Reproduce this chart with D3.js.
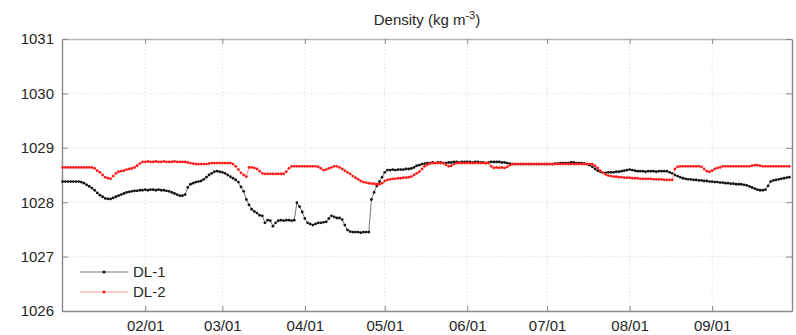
<!DOCTYPE html>
<html>
<head>
  <meta charset="utf-8">
  <style>
    body { margin: 0; background: white; font-family: "Liberation Sans", Arial, Helvetica, sans-serif; }
    svg { display: block; }
  </style>
  <script src="https://cdn.jsdelivr.net/npm/d3@7/dist/d3.min.js"></script>
</head>
<body>
  <svg id="main"></svg>
<script>
  // daily series, first value = 2012-01-01, one value per day through 09/30
  const startDate = new Date(2012, 0, 1)

  const dl1 = [
    // Jan
    1028.38,1028.38,1028.38,1028.38,1028.38,1028.38,1028.38,1028.37,1028.35,1028.32,1028.29,1028.26,1028.22,1028.17,1028.13,1028.10,
    1028.07,1028.06,1028.06,1028.08,1028.10,1028.12,1028.14,1028.16,1028.18,1028.19,1028.20,1028.21,1028.21,1028.22,1028.22,
    // Feb
    1028.23,1028.22,1028.23,1028.23,1028.22,1028.23,1028.22,1028.22,1028.21,1028.20,1028.18,1028.16,1028.14,1028.12,1028.12,
    1028.14,1028.27,1028.33,1028.35,1028.37,1028.38,1028.39,1028.42,1028.46,1028.50,1028.53,1028.56,1028.57,1028.56,
    // Mar
    1028.55,1028.53,1028.50,1028.47,1028.44,1028.41,1028.37,1028.28,1028.20,1028.05,1027.95,1027.87,1027.83,1027.80,1027.76,1027.75,
    1027.62,1027.67,1027.66,1027.56,1027.62,1027.66,1027.67,1027.66,1027.67,1027.67,1027.66,1027.67,1027.99,1027.92,1027.82,
    // Apr
    1027.70,1027.62,1027.60,1027.58,1027.60,1027.62,1027.62,1027.63,1027.64,1027.70,1027.75,1027.73,1027.71,1027.71,1027.68,
    1027.58,1027.49,1027.46,1027.45,1027.45,1027.45,1027.44,1027.45,1027.45,1027.45,1028.05,1028.18,1028.30,1028.38,1028.46,
    // May
    1028.55,1028.59,1028.59,1028.60,1028.59,1028.60,1028.60,1028.60,1028.61,1028.61,1028.62,1028.64,1028.67,1028.68,1028.70,1028.71,
    1028.72,1028.72,1028.73,1028.72,1028.73,1028.73,1028.72,1028.72,1028.73,1028.73,1028.74,1028.74,1028.73,1028.74,1028.74,
    // Jun
    1028.74,1028.74,1028.73,1028.74,1028.74,1028.73,1028.73,1028.72,1028.73,1028.74,1028.74,1028.74,1028.74,1028.73,1028.73,
    1028.72,1028.71,1028.70,1028.70,1028.70,1028.70,1028.70,1028.70,1028.70,1028.70,1028.70,1028.70,1028.70,1028.70,1028.70,
    // Jul
    1028.70,1028.70,1028.70,1028.71,1028.71,1028.72,1028.72,1028.72,1028.72,1028.73,1028.73,1028.72,1028.72,1028.72,1028.71,1028.70,
    1028.68,1028.65,1028.61,1028.58,1028.56,1028.54,1028.54,1028.55,1028.55,1028.55,1028.56,1028.56,1028.57,1028.58,1028.59,
    // Aug
    1028.60,1028.59,1028.58,1028.57,1028.57,1028.57,1028.56,1028.57,1028.57,1028.57,1028.56,1028.57,1028.57,1028.57,1028.57,1028.55,
    1028.53,1028.50,1028.48,1028.46,1028.44,1028.43,1028.42,1028.42,1028.41,1028.41,1028.40,1028.40,1028.39,1028.39,1028.38,
    // Sep
    1028.38,1028.37,1028.37,1028.36,1028.36,1028.35,1028.35,1028.34,1028.34,1028.33,1028.33,1028.33,1028.32,1028.31,1028.29,
    1028.27,1028.25,1028.23,1028.22,1028.22,1028.23,1028.30,1028.38,1028.40,1028.41,1028.42,1028.43,1028.44,1028.45,1028.46
  ]

  const dl2 = [
    // Jan
    1028.64,1028.64,1028.64,1028.64,1028.64,1028.64,1028.64,1028.64,1028.64,1028.64,1028.64,1028.64,1028.62,1028.58,1028.55,1028.50,
    1028.46,1028.44,1028.43,1028.48,1028.53,1028.56,1028.57,1028.58,1028.60,1028.61,1028.62,1028.64,1028.67,1028.71,1028.74,
    // Feb
    1028.74,1028.75,1028.74,1028.74,1028.75,1028.74,1028.74,1028.75,1028.74,1028.74,1028.74,1028.75,1028.74,1028.74,1028.74,
    1028.74,1028.73,1028.72,1028.71,1028.70,1028.70,1028.70,1028.70,1028.70,1028.71,1028.72,1028.72,1028.72,1028.72,
    // Mar
    1028.72,1028.72,1028.72,1028.72,1028.70,1028.66,1028.60,1028.54,1028.50,1028.47,1028.64,1028.64,1028.63,1028.61,1028.57,1028.53,
    1028.52,1028.52,1028.52,1028.52,1028.52,1028.52,1028.52,1028.52,1028.56,1028.62,1028.66,1028.66,1028.66,1028.66,1028.66,
    // Apr
    1028.66,1028.66,1028.66,1028.66,1028.66,1028.65,1028.62,1028.59,1028.60,1028.62,1028.64,1028.66,1028.66,1028.64,1028.61,
    1028.58,1028.55,1028.52,1028.48,1028.45,1028.42,1028.39,1028.37,1028.36,1028.35,1028.34,1028.34,1028.33,1028.33,1028.35,
    // May
    1028.39,1028.41,1028.42,1028.43,1028.43,1028.44,1028.44,1028.45,1028.45,1028.46,1028.47,1028.50,1028.53,1028.56,1028.61,1028.66,
    1028.69,1028.71,1028.72,1028.72,1028.72,1028.72,1028.72,1028.69,1028.66,1028.67,1028.70,1028.72,1028.72,1028.72,1028.72,
    // Jun
    1028.72,1028.72,1028.72,1028.72,1028.72,1028.72,1028.72,1028.72,1028.72,1028.66,1028.63,1028.64,1028.63,1028.64,1028.63,
    1028.65,1028.68,1028.70,1028.70,1028.70,1028.70,1028.70,1028.70,1028.70,1028.70,1028.70,1028.70,1028.70,1028.70,1028.70,
    // Jul
    1028.70,1028.70,1028.70,1028.70,1028.70,1028.70,1028.70,1028.70,1028.70,1028.70,1028.70,1028.70,1028.70,1028.70,1028.70,1028.70,
    1028.70,1028.70,1028.67,1028.63,1028.58,1028.54,1028.51,1028.49,1028.48,1028.47,1028.47,1028.46,1028.46,1028.45,1028.45,
    // Aug
    1028.45,1028.44,1028.44,1028.44,1028.43,1028.43,1028.43,1028.43,1028.43,1028.42,1028.42,1028.42,1028.42,1028.41,1028.41,1028.41,
    1028.41,1028.61,1028.65,1028.66,1028.66,1028.66,1028.66,1028.66,1028.66,1028.66,1028.66,1028.65,1028.61,1028.57,1028.56,
    // Sep
    1028.58,1028.61,1028.63,1028.64,1028.66,1028.66,1028.66,1028.66,1028.66,1028.66,1028.66,1028.66,1028.66,1028.66,1028.66,
    1028.67,1028.68,1028.68,1028.67,1028.66,1028.66,1028.66,1028.66,1028.66,1028.66,1028.66,1028.66,1028.66,1028.66,1028.66
  ]

  const seriesNames = ["DL-1", "DL-2"]
  const seriesColors = ["#111111", "#ff1a1a"]
  const lineColors = ["#666666", "#ff8c8c"]
  const yTicks = [1026, 1027, 1028, 1029, 1030, 1031]
  const xTickDates = [
    new Date(2012, 1, 1), new Date(2012, 2, 1), new Date(2012, 3, 1), new Date(2012, 4, 1),
    new Date(2012, 5, 1), new Date(2012, 6, 1), new Date(2012, 7, 1), new Date(2012, 8, 1)
  ]

  const width = 796
  const height = 335
  const margin = {top: 39, right: 4, bottom: 24, left: 62}

  const svg = d3.select("#main")
    .attr("width", width)
    .attr("height", height)

  const x = d3.scaleTime()
    .domain([new Date(2011, 11, 31, 18), new Date(2012, 9, 1)])
    .range([margin.left, width - margin.right])

  const y = d3.scaleLinear()
    .domain([1026, 1031])
    .range([height - margin.bottom, margin.top])

  const dayDate = i => d3.timeDay.offset(startDate, i)
  const series = [dl1, dl2].map((vals, k) => ({
    name: seriesNames[k],
    color: seriesColors[k],
    lineColor: lineColors[k],
    points: vals.map((v, i) => ({date: dayDate(i), value: v}))
  }))

  // grid
  const grid = svg.append("g")
    .attr("stroke", "#d9d9d9")
    .attr("stroke-width", 0.8)
    .attr("stroke-dasharray", "1.5,2")
  grid.selectAll("line.gx")
    .data(xTickDates)
    .join("line")
    .attr("class", "gx")
    .attr("x1", d => x(d)).attr("x2", d => x(d))
    .attr("y1", y(1031)).attr("y2", y(1026))
  grid.selectAll("line.gy")
    .data(yTicks.slice(1, -1))
    .join("line")
    .attr("class", "gy")
    .attr("x1", x.range()[0]).attr("x2", x.range()[1])
    .attr("y1", d => y(d)).attr("y2", d => y(d))

  // axes, ticks pointing inward like matlab
  const fmt = d3.timeFormat("%m/%d")
  const styleAxis = g => {
    g.select(".domain").attr("stroke", "#8a8a8a").attr("stroke-width", 1.4)
    g.selectAll(".tick line").attr("stroke", "#8a8a8a").attr("stroke-width", 1)
    g.selectAll(".tick text").attr("fill", "#262626")
      .attr("font-size", 15).attr("font-family", "'Liberation Sans', Arial, sans-serif")
  }

  svg.append("g")
    .attr("transform", `translate(0,${y(1026)})`)
    .call(d3.axisBottom(x).tickValues(xTickDates).tickFormat(fmt).tickSizeInner(-5).tickSizeOuter(0).tickPadding(9))
    .call(styleAxis)

  svg.append("g")
    .attr("transform", `translate(0,${y(1031)})`)
    .call(d3.axisTop(x).tickValues(xTickDates).tickFormat("").tickSizeInner(-5).tickSizeOuter(0))
    .call(styleAxis)
    .call(g => g.select(".domain").attr("stroke", "#b5b5b5"))

  svg.append("g")
    .attr("transform", `translate(${x.range()[0]},0)`)
    .call(d3.axisLeft(y).tickValues(yTicks).tickFormat(d3.format("d")).tickSizeInner(-6).tickSizeOuter(0).tickPadding(8))
    .call(styleAxis)

  svg.append("g")
    .attr("transform", `translate(${x.range()[1]},0)`)
    .call(d3.axisRight(y).tickValues(yTicks).tickFormat("").tickSizeInner(-6).tickSizeOuter(0))
    .call(styleAxis)

  // series
  const line = d3.line()
    .defined(d => d.value != null)
    .x(d => x(d.date))
    .y(d => y(d.value))

  for (const s of series) {
    svg.append("path")
      .datum(s.points)
      .attr("fill", "none")
      .attr("stroke", s.lineColor)
      .attr("stroke-width", 0.9)
      .attr("d", line)
    svg.append("g")
      .attr("fill", s.color)
      .selectAll("circle")
      .data(s.points.filter(d => d.value != null))
      .join("circle")
      .attr("cx", d => x(d.date))
      .attr("cy", d => y(d.value))
      .attr("r", 1.4)
  }

  // title
  const title = svg.append("text")
    .attr("x", (x.range()[0] + x.range()[1]) / 2)
    .attr("y", 25)
    .attr("text-anchor", "middle")
    .attr("font-size", 15)
    .attr("fill", "#262626")
  title.append("tspan").text("Density (kg m")
  title.append("tspan").attr("dy", -6).attr("font-size", 11).text("-3")
  title.append("tspan").attr("dy", 6).text(")")

  // legend
  const legend = svg.append("g")
    .attr("transform", `translate(80,272)`)
  series.forEach((s, i) => {
    const row = legend.append("g").attr("transform", `translate(0,${i * 20})`)
    row.append("line")
      .attr("x1", 0).attr("x2", 48)
      .attr("stroke", s.lineColor).attr("stroke-width", 0.9)
    row.append("circle").attr("cx", 24).attr("r", 1.6).attr("fill", s.color)
    row.append("text")
      .attr("x", 53).attr("dy", "0.35em")
      .attr("font-size", 15)
      .attr("fill", "#262626")
      .text(s.name)
  })
</script>
</body>
</html>
